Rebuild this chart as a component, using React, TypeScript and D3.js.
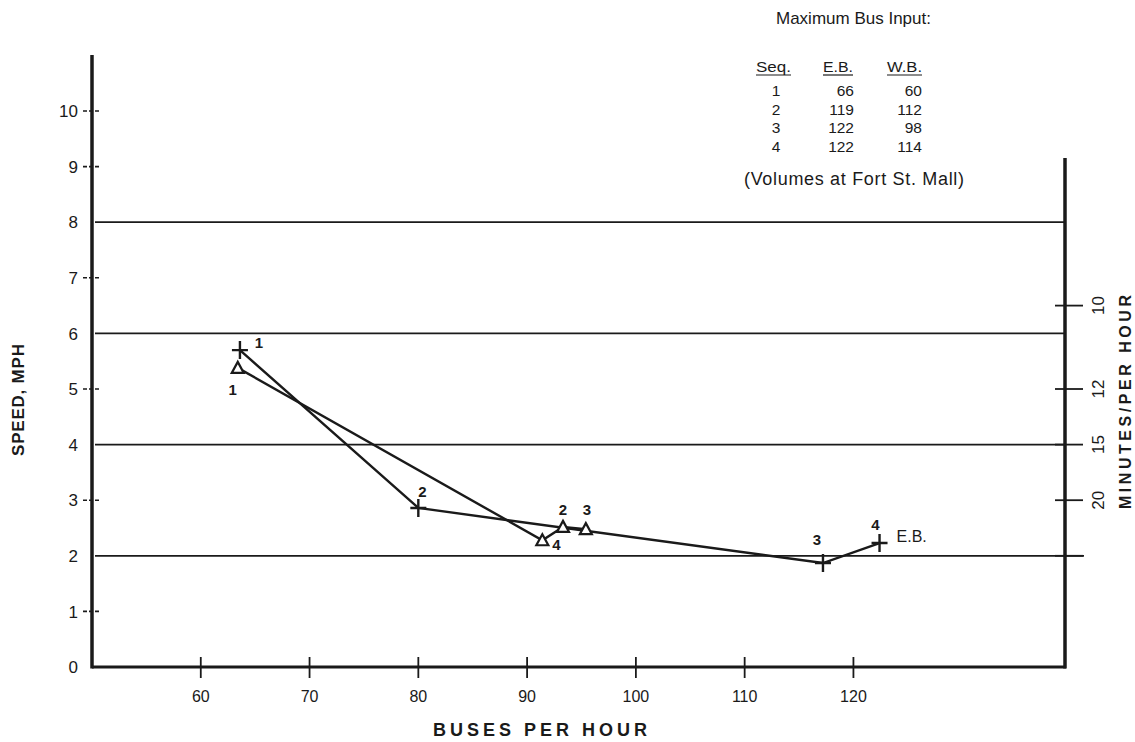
import { useEffect, useRef } from 'react';
import * as d3 from 'd3';

// axis ticks
const xTicks = [60, 70, 80, 90, 100, 110, 120];
const yTicks = [0, 1, 2, 3, 4, 5, 6, 7, 8, 9, 10];
const gridSpeeds = [2, 4, 6, 8];
const minuteLabels = ['10', '12', '15', '20', ''];
const minuteSpeeds = [6.5, 5, 4, 3, 2];

// E.B. series (crosses)
const ebSeq = ['1', '2', '3', '4'];
const ebBuses = [63.6, 80.0, 117.2, 122.4];
const ebSpeed = [5.7, 2.86, 1.87, 2.23];

// W.B. series (triangles), ordered along the line
const wbSeq = ['1', '4', '2', '3'];
const wbBuses = [63.4, 91.4, 93.3, 95.4];
const wbSpeed = [5.38, 2.28, 2.52, 2.48];

// table: maximum bus input
const tableSeq = ['1', '2', '3', '4'];
const tableEB = [66, 119, 122, 122];
const tableWB = [60, 112, 98, 114];

// label offsets around markers (layout only)
const ebLabelOffset = [[19, -2], [4, -11], [-6, -18], [-4, -13]];
const wbLabelOffset = [[-5, 27], [14, 10], [0, -12], [1, -14]];

const W = 1135;
const H = 742;
const FONT = "'Liberation Sans', Arial, Helvetica, sans-serif";

export default function App() {
  const ref = useRef<HTMLDivElement>(null);

  useEffect(() => {
    const container = ref.current;
    if (!container) return;
    d3.select(container).select('svg').remove();

    const svg = d3.select(container)
      .append('svg')
      .attr('width', W)
      .attr('height', H)
      .attr('viewBox', `0 0 ${W} ${H}`)
      .style('display', 'block')
      .style('font-family', FONT);

    svg.append('rect').attr('width', W).attr('height', H).attr('fill', '#fff');

    const x = d3.scaleLinear().domain([50, 139.45]).range([92, 1065]);
    const y = d3.scaleLinear().domain([0, 10]).range([667, 111]);
    const ink = '#1a1a1a';

    // gridlines
    svg.append('g').selectAll('line')
      .data(gridSpeeds)
      .join('line')
      .attr('x1', 95)
      .attr('x2', d => (d === 2 ? 1084 : 1065))
      .attr('y1', d => y(d))
      .attr('y2', d => y(d))
      .attr('stroke', ink)
      .attr('stroke-width', 1.8);

    // left axis
    svg.append('line')
      .attr('x1', 92).attr('x2', 92)
      .attr('y1', 55).attr('y2', y(0) + 1.5)
      .attr('stroke', ink).attr('stroke-width', 3.5);

    const yTickG = svg.append('g');
    yTickG.selectAll('line')
      .data(yTicks.filter(d => d > 0 && !gridSpeeds.includes(d)))
      .join('line')
      .attr('x1', 83).attr('x2', 101)
      .attr('y1', d => y(d)).attr('y2', d => y(d))
      .attr('stroke', ink)
      .attr('stroke-width', 1.6)
      .attr('stroke-dasharray', '4,2');
    yTickG.selectAll('text')
      .data(yTicks)
      .join('text')
      .attr('x', 78)
      .attr('y', d => y(d))
      .attr('dy', '0.36em')
      .attr('text-anchor', 'end')
      .attr('font-size', 17)
      .attr('fill', ink)
      .text(d => d);

    // bottom axis
    svg.append('line')
      .attr('x1', 92).attr('x2', 1066)
      .attr('y1', y(0)).attr('y2', y(0))
      .attr('stroke', ink).attr('stroke-width', 3);

    const xTickG = svg.append('g');
    xTickG.selectAll('line')
      .data(xTicks)
      .join('line')
      .attr('x1', d => x(d)).attr('x2', d => x(d))
      .attr('y1', 657).attr('y2', 678)
      .attr('stroke', ink).attr('stroke-width', 1.8);
    xTickG.selectAll('text')
      .data(xTicks)
      .join('text')
      .attr('x', d => x(d))
      .attr('y', 702)
      .attr('text-anchor', 'middle')
      .attr('font-size', 16)
      .attr('fill', ink)
      .text(d => d);

    // right axis (minutes)
    svg.append('line')
      .attr('x1', 1065).attr('x2', 1065)
      .attr('y1', 158).attr('y2', y(0) + 1.5)
      .attr('stroke', ink).attr('stroke-width', 3.5);

    const rG = svg.append('g');
    rG.selectAll('line')
      .data(minuteSpeeds)
      .join('line')
      .attr('x1', 1055).attr('x2', 1083)
      .attr('y1', d => y(d)).attr('y2', d => y(d))
      .attr('stroke', ink).attr('stroke-width', 1.8);
    rG.selectAll('text')
      .data(minuteLabels)
      .join('text')
      .attr('transform', (d, i) => `translate(1098,${y(minuteSpeeds[i])}) rotate(-90)`)
      .attr('text-anchor', 'middle')
      .attr('dy', '0.36em')
      .attr('font-size', 17)
      .attr('fill', ink)
      .text(d => d);

    svg.append('text')
      .attr('transform', 'translate(1125,402) rotate(-90)')
      .attr('text-anchor', 'middle')
      .attr('dy', '0.36em')
      .attr('font-size', 16)
      .attr('font-weight', 700)
      .attr('fill', ink)
      .attr('textLength', 214)
      .attr('lengthAdjust', 'spacing')
      .text('MINUTES/PER  HOUR');

    // axis titles
    svg.append('text')
      .attr('transform', 'translate(18,400) rotate(-90)')
      .attr('text-anchor', 'middle')
      .attr('dy', '0.36em')
      .attr('font-size', 17)
      .attr('font-weight', 700)
      .attr('fill', ink)
      .attr('textLength', 112)
      .attr('lengthAdjust', 'spacing')
      .text('SPEED,  MPH');

    svg.append('text')
      .attr('x', 540)
      .attr('y', 736)
      .attr('text-anchor', 'middle')
      .attr('font-size', 18)
      .attr('font-weight', 700)
      .attr('fill', ink)
      .attr('textLength', 214)
      .attr('lengthAdjust', 'spacing')
      .text('BUSES PER HOUR');

    // series lines
    const ebPts = ebBuses.map((b, i) => [x(b), y(ebSpeed[i])] as [number, number]);
    const wbPts = wbBuses.map((b, i) => [x(b), y(wbSpeed[i])] as [number, number]);
    const path = d3.line();

    svg.append('path')
      .attr('d', path(wbPts) || '')
      .attr('fill', 'none')
      .attr('stroke', ink)
      .attr('stroke-width', 2.4);
    svg.append('path')
      .attr('d', path(ebPts) || '')
      .attr('fill', 'none')
      .attr('stroke', ink)
      .attr('stroke-width', 2.4);

    // triangles (W.B.)
    svg.append('g').selectAll('path')
      .data(wbPts)
      .join('path')
      .attr('d', ([px, py]) => `M${px},${py - 6} L${px + 6},${py + 5} L${px - 6},${py + 5} Z`)
      .attr('fill', '#fff')
      .attr('stroke', ink)
      .attr('stroke-width', 2.2)
      .attr('stroke-linejoin', 'miter');

    // crosses (E.B.)
    const crossG = svg.append('g');
    ebPts.forEach(([px, py]) => {
      crossG.append('path')
        .attr('d', `M${px - 8},${py} H${px + 8} M${px},${py - 9} V${py + 9}`)
        .attr('stroke', ink)
        .attr('stroke-width', 2.4);
    });

    // point labels
    svg.append('g').selectAll('text')
      .data(ebSeq)
      .join('text')
      .attr('x', (d, i) => ebPts[i][0] + ebLabelOffset[i][0])
      .attr('y', (d, i) => ebPts[i][1] + ebLabelOffset[i][1])
      .attr('text-anchor', 'middle')
      .attr('font-size', 15)
      .attr('font-weight', 700)
      .attr('fill', ink)
      .text(d => d);

    svg.append('g').selectAll('text')
      .data(wbSeq)
      .join('text')
      .attr('x', (d, i) => wbPts[i][0] + wbLabelOffset[i][0])
      .attr('y', (d, i) => wbPts[i][1] + wbLabelOffset[i][1])
      .attr('text-anchor', 'middle')
      .attr('font-size', 15)
      .attr('font-weight', 700)
      .attr('fill', ink)
      .text(d => d);

    const last = ebPts[ebPts.length - 1];
    svg.append('text')
      .attr('x', last[0] + 17)
      .attr('y', last[1] - 1)
      .attr('font-size', 16)
      .attr('fill', ink)
      .text('E.B.');

    // table in the corner
    const tbl = svg.append('g').attr('fill', ink);
    tbl.append('text')
      .attr('x', 776).attr('y', 24)
      .attr('font-size', 17)
      .text('Maximum Bus Input:');

    const heads = [
      { t: 'Seq.', x: 756, w: 35 },
      { t: 'E.B.', x: 823, w: 30 },
      { t: 'W.B.', x: 887, w: 35 },
    ];
    heads.forEach(h => {
      tbl.append('text')
        .attr('x', h.x).attr('y', 72)
        .attr('font-size', 15)
        .attr('textLength', h.w)
        .attr('lengthAdjust', 'spacingAndGlyphs')
        .text(h.t);
      tbl.append('line')
        .attr('x1', h.x).attr('x2', h.x + h.w)
        .attr('y1', 75).attr('y2', 75)
        .attr('stroke', ink).attr('stroke-width', 1.2);
    });

    const rowY = d3.scaleLinear().domain([0, 3]).range([96, 152]);
    tableSeq.forEach((s, i) => {
      tbl.append('text').attr('x', 776).attr('y', rowY(i))
        .attr('text-anchor', 'middle').attr('font-size', 15.5).text(s);
      tbl.append('text').attr('x', 854).attr('y', rowY(i))
        .attr('text-anchor', 'end').attr('font-size', 15.5).text(tableEB[i]);
      tbl.append('text').attr('x', 922).attr('y', rowY(i))
        .attr('text-anchor', 'end').attr('font-size', 15.5).text(tableWB[i]);
    });

    tbl.append('text')
      .attr('x', 744).attr('y', 185)
      .attr('font-size', 18)
      .attr('textLength', 220)
      .attr('lengthAdjust', 'spacing')
      .text('(Volumes at Fort St. Mall)');

    return () => {
      d3.select(container).select('svg').remove();
    };
  }, []);

  return <div ref={ref} style={{ position: 'absolute', left: 0, top: 0 }} />;
}
